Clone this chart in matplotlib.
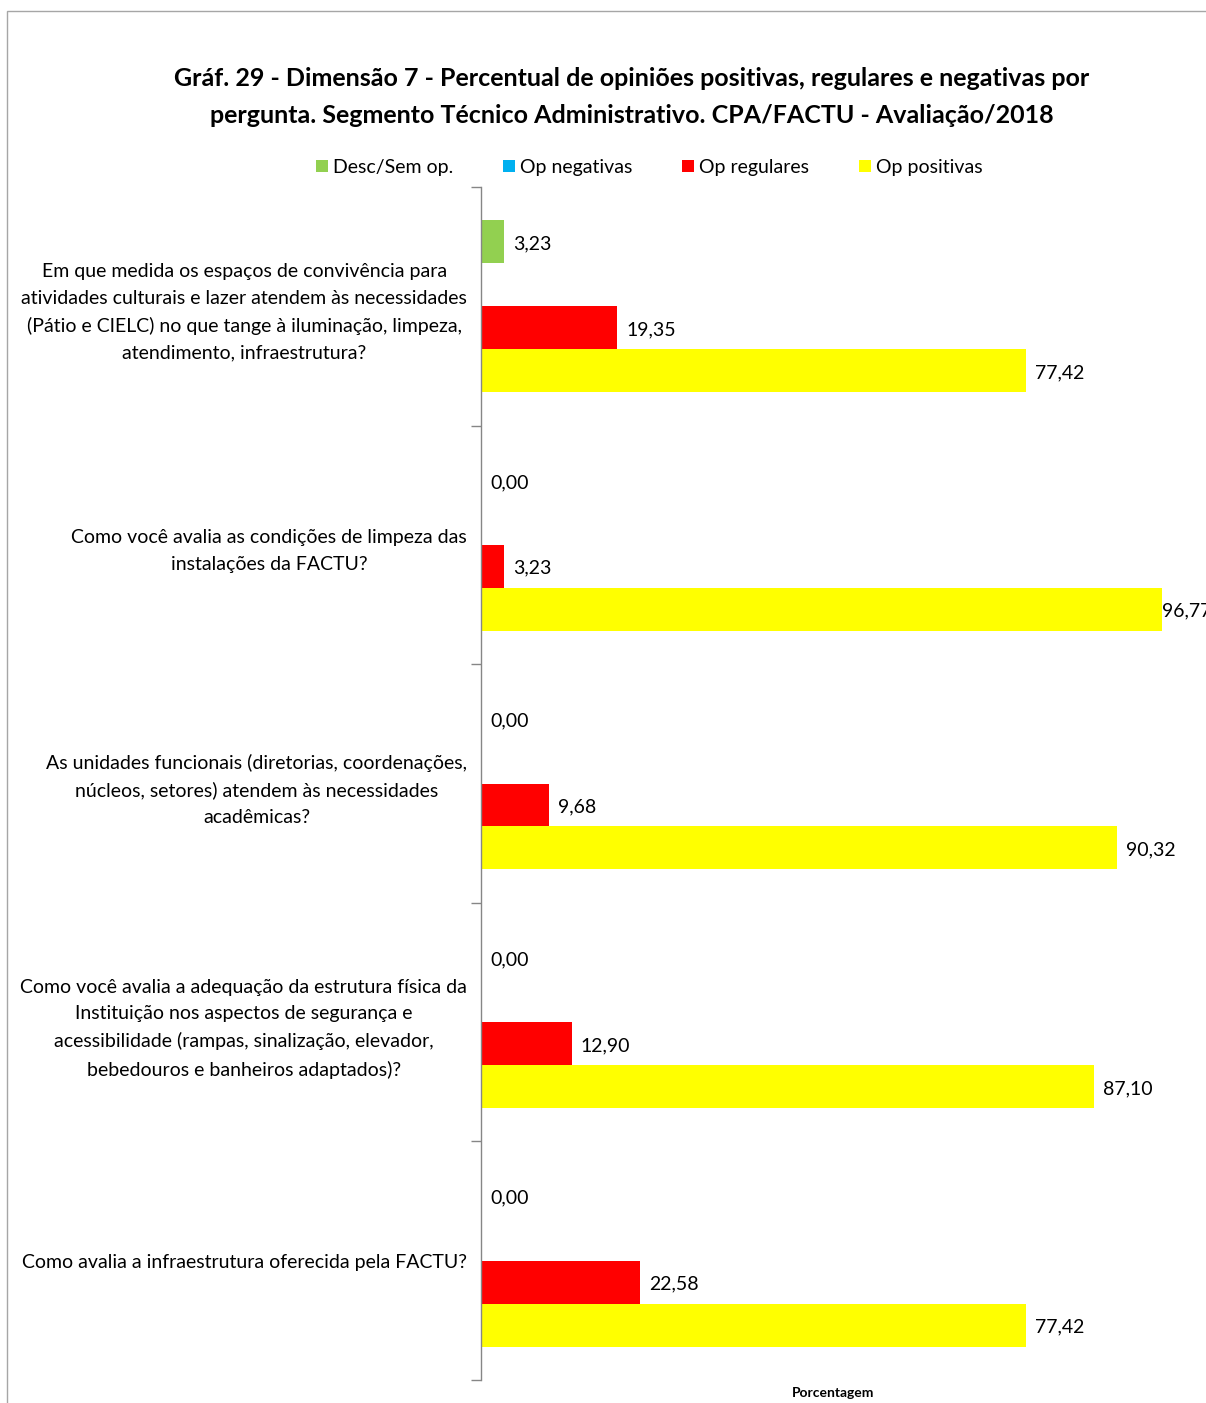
import matplotlib
matplotlib.use("Agg")
import matplotlib.pyplot as plt
from matplotlib.patches import Rectangle

plt.rcParams['font.family'] = ['Lato', 'DejaVu Sans']

title = ("Gráf. 29 - Dimensão 7 - Percentual de opiniões positivas, regulares e negativas por\n"
         "pergunta. Segmento Técnico Administrativo. CPA/FACTU - Avaliação/2018")

categories = [
    "Em que medida os espaços de convivência para\natividades culturais e lazer atendem às necessidades\n(Pátio e CIELC) no que tange à iluminação, limpeza,\natendimento, infraestrutura?",
    "Como você avalia as condições de limpeza das\ninstalações da FACTU?",
    "As unidades funcionais (diretorias, coordenações,\nnúcleos, setores) atendem às necessidades\nacadêmicas?",
    "Como você avalia a adequação da estrutura física da\nInstituição nos aspectos de segurança e\nacessibilidade (rampas, sinalização, elevador,\nbebedouros e banheiros adaptados)?",
    "Como avalia a infraestrutura oferecida pela FACTU?",
]

series_names = ["Desc/Sem op.", "Op negativas", "Op regulares", "Op positivas"]
series_colors = ["#92D050", "#00B0F0", "#FF0000", "#FFFF00"]
desc_sem_op = [3.23, 0.00, 0.00, 0.00, 0.00]
op_negativas = [0.00, 0.00, 0.00, 0.00, 0.00]
op_regulares = [19.35, 3.23, 9.68, 12.90, 22.58]
op_positivas = [77.42, 96.77, 90.32, 87.10, 77.42]
series_values = [desc_sem_op, op_negativas, op_regulares, op_positivas]
show_labels = [True, False, True, True]

W, H = 1206, 1403
fig = plt.figure(figsize=(W / 100, H / 100), dpi=100)

# outer chart border
fig.patches.append(Rectangle((7 / W, -0.1), 2.0, 1 - 11 / H + 0.1, transform=fig.transFigure,
                             fill=False, edgecolor="#A6A6A6", linewidth=1.0))

ax_l, ax_r, ax_t, ax_b = 481, 1185, 187, 1380
ax = fig.add_axes([ax_l / W, 1 - ax_b / H, (ax_r - ax_l) / W, (ax_b - ax_t) / H])

n = len(categories)
bar_h = 0.18
offsets = [-0.27, -0.09, 0.09, 0.27]
ypos = list(range(n))
for vals, col, off, show in zip(series_values, series_colors, offsets, show_labels):
    ys = [y + off for y in ypos]
    ax.barh(ys, vals, height=bar_h, color=col, edgecolor='none')
    if show:
        for y, v in zip(ys, vals):
            lbl = f"{v:.2f}".replace(".", ",")
            dx = 1.3 if v < 95 else 0.0
            ax.text(v + dx, y + 0.008, lbl, ha='left', va='center', fontsize=14, color='#000000',
                    clip_on=False)

ax.set_xlim(0, 100)
ax.set_ylim(n - 0.5, -0.5)
for s in ['top', 'right', 'bottom']:
    ax.spines[s].set_visible(False)
ax.spines['left'].set_color('#868686')
ax.spines['left'].set_linewidth(1.0)
ax.set_xticks([])
ax.set_yticks(ypos)
ax.set_yticklabels(categories, fontsize=14, ha='right', multialignment='center',
                   linespacing=1.68)
ax.tick_params(axis='y', which='major', length=0, pad=10)
ax.set_yticks([i - 0.5 for i in range(n + 1)], minor=True)
ax.tick_params(axis='y', which='minor', length=7, color='#868686', width=1.0)

ax.set_xlabel("Porcentagem", fontsize=10, fontweight='bold', labelpad=5)

fig.text(632 / W, 1 - 97 / H, title, ha='center', va='center', fontsize=18,
         fontweight='bold', linespacing=1.72)

# legend
leg_x = [316, 503, 682, 859]
leg_y = 166
for name, col, x in zip(series_names, series_colors, leg_x):
    fig.patches.append(Rectangle((x / W, 1 - (leg_y + 6) / H), 12 / W, 12 / H,
                                 transform=fig.transFigure, facecolor=col, edgecolor='none'))
    fig.text((x + 17) / W, 1 - (leg_y + 2) / H, name, ha='left', va='center', fontsize=14)

fig.savefig("out.png", dpi=100, facecolor='white')
